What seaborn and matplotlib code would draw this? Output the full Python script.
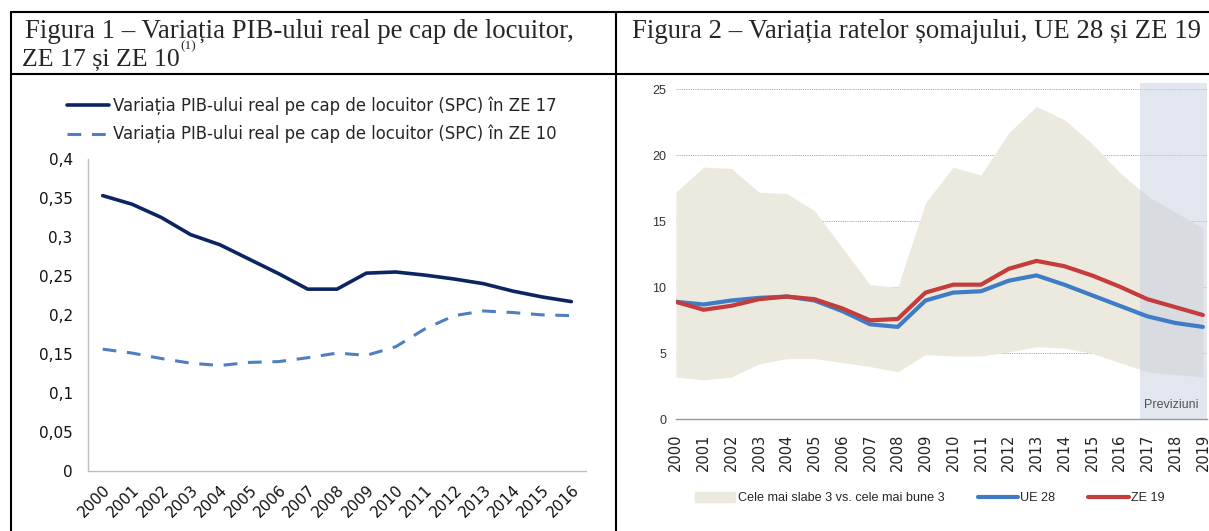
import numpy as np
import pandas as pd
import seaborn as sns
import matplotlib.pyplot as plt
from matplotlib.lines import Line2D
from matplotlib.patches import Patch
from matplotlib.ticker import FuncFormatter

sns.set_style("white")
plt.rcParams['font.family'] = ['DejaVu Sans']

# Figura 1 data
ani_f1 = list(range(2000, 2017))
ze17 = [0.353, 0.342, 0.325, 0.303, 0.290, 0.2715, 0.253, 0.233, 0.233, 0.2535,
        0.255, 0.251, 0.246, 0.240, 0.2305, 0.223, 0.217]
ze10 = [0.156, 0.151, 0.144, 0.138, 0.135, 0.139, 0.140, 0.145, 0.151, 0.148,
        0.159, 0.182, 0.199, 0.205, 0.203, 0.200, 0.199]
label_ze17 = 'Variația PIB-ului real pe cap de locuitor (SPC) în ZE 17'
label_ze10 = 'Variația PIB-ului real pe cap de locuitor (SPC) în ZE 10'

# Figura 2 data
ani_f2 = list(range(2000, 2020))
ue28 = [8.9, 8.7, 9.0, 9.2, 9.3, 9.0, 8.2, 7.2, 7.0, 9.0,
        9.6, 9.7, 10.5, 10.9, 10.2, 9.4, 8.6, 7.8, 7.3, 7.0]
ze19 = [8.9, 8.3, 8.6, 9.1, 9.3, 9.1, 8.4, 7.5, 7.6, 9.6,
        10.2, 10.2, 11.4, 12.0, 11.6, 10.9, 10.05, 9.1, 8.5, 7.9]
band_sus = [17.2, 19.1, 19.0, 17.2, 17.1, 15.8, 13.0, 10.2, 10.0, 16.4,
            19.1, 18.5, 21.7, 23.7, 22.7, 20.9, 18.7, 16.9, 15.7, 14.5]
band_jos = [3.2, 3.0, 3.2, 4.2, 4.6, 4.6, 4.3, 4.0, 3.6, 4.9,
            4.8, 4.8, 5.1, 5.5, 5.4, 5.0, 4.3, 3.6, 3.4, 3.2]
previziuni_start = 2016.73

narrow = ['Liberation Sans', 'DejaVu Sans']
serif = ['Liberation Serif', 'DejaVu Serif']

fig = plt.figure(figsize=(12.09, 5.31), dpi=100)

# table frame
for xy in [([0.0091, 0.0091], [0.0, 0.9774]),
           ([0.5095, 0.5095], [0.0, 0.9774]),
           ([0.0091, 1.0], [0.9774, 0.9774]),
           ([0.0091, 1.0], [0.8606, 0.8606])]:
    fig.add_artist(Line2D(xy[0], xy[1], color='black', lw=1.5, transform=fig.transFigure))

fig.text(0.0207, 0.929, 'Figura 1 – Variația PIB-ului real pe cap de locuitor,',
         family=serif, fontsize=19.3, va='baseline')
t2 = fig.text(0.0185, 0.876, 'ZE 17 și ZE 10',
              family=serif, fontsize=18.6, va='baseline')
fig.text(0.5228, 0.929, 'Figura 2 – Variația ratelor șomajului, UE 28 și ZE 19',
         family=serif, fontsize=19.3, va='baseline')

# ---- Figura 1
ax1 = fig.add_axes([0.0728, 0.1135, 0.4119, 0.5871])
ax1.annotate('(1)', xy=(1, 1), xycoords=t2, xytext=(0.3, 6.3), textcoords='offset points',
             family=serif, fontsize=9.5, va='top', ha='left', annotation_clip=False)
sns.lineplot(x=ani_f1, y=ze17, ax=ax1, color='#0c2461', lw=2.6, label=label_ze17)
sns.lineplot(x=ani_f1, y=ze10, ax=ax1, color='#4f7fc0', lw=2.2, label=label_ze10)
ax1.lines[1].set_dashes((4.5, 3.5))
ax1.set_xlim(1999.5, 2016.5)
ax1.set_ylim(0, 0.4)
ax1.set_yticks(np.arange(0, 0.401, 0.05))
ax1.yaxis.set_major_formatter(FuncFormatter(lambda v, p: f'{v:.2f}'.rstrip('0').rstrip('.').replace('.', ',')))
ax1.set_xticks(ani_f1)
ax1.tick_params(axis='y', length=0, pad=11, labelsize=11, labelcolor='#111')
ax1.tick_params(axis='x', length=0, pad=8, labelsize=11, labelcolor='#111')
plt.setp(ax1.get_xticklabels(), rotation=45, ha='right', rotation_mode='anchor')
for s in ['top', 'right']:
    ax1.spines[s].set_visible(False)
for s in ['left', 'bottom']:
    ax1.spines[s].set_color('#bfbfbf')
    ax1.spines[s].set_linewidth(1)
ax1.legend(loc='upper left', bbox_to_anchor=(-0.055, 1.222), frameon=False, fontsize=11.9,
           handlelength=2.55, handletextpad=0.2, labelspacing=0.6, borderaxespad=0)

# ---- Figura 2
ax2 = fig.add_axes([0.559, 0.2103, 0.4394, 0.6328])
ax2.set_axisbelow(True)
ax2.yaxis.grid(True, linestyle=(0, (1, 1.2)), color='#8a8a8a', lw=0.6)
ax2.fill_between(ani_f2, band_jos, band_sus, color='#ece9df', lw=0, zorder=1)
ax2.axvspan(previziuni_start, 2019.15, color='#c9d3e3', alpha=0.55, lw=0, zorder=1.5)
sns.lineplot(x=ani_f2, y=ue28, ax=ax2, color='#3e7cc6', lw=3.0, zorder=3)
sns.lineplot(x=ani_f2, y=ze19, ax=ax2, color='#c43c3c', lw=3.0, zorder=3)
ax2.set_xlim(2000, 2019.15)
ax2.set_ylim(0, 25.45)
ax2.set_yticks(range(0, 26, 5))
ax2.set_xticks(ani_f2)
ax2.tick_params(axis='y', length=0, pad=7, labelsize=9, labelcolor='#333')
for t in ax2.get_yticklabels():
    t.set_family(narrow)
ax2.tick_params(axis='x', length=4, width=1, color='#999', direction='out', pad=6.5,
                labelsize=10.5, labelcolor='#222', labelrotation=90)
for s in ['top', 'right', 'left']:
    ax2.spines[s].set_visible(False)
ax2.spines['bottom'].set_color('#999')
ax2.spines['bottom'].set_linewidth(1)
ax2.text(2017.85, 0.6, 'Previziuni', ha='center', va='bottom', fontsize=9,
         color='#555', family=narrow)

handles = [Patch(color='#ece9df'),
           Line2D([], [], color='#3e7cc6', lw=3.0),
           Line2D([], [], color='#c43c3c', lw=3.0)]
fig.legend(handles, ['Cele mai slabe 3 vs. cele mai bune 3', 'UE 28', 'ZE 19'],
           loc='center left', bbox_to_anchor=(0.5749, 0.062), ncol=3, frameon=False,
           prop={'family': narrow, 'size': 9.1}, handlelength=3.2, handleheight=0.8,
           handletextpad=0.2, columnspacing=2.6, borderaxespad=0, borderpad=0)

fig.savefig('out.png', dpi=100)
